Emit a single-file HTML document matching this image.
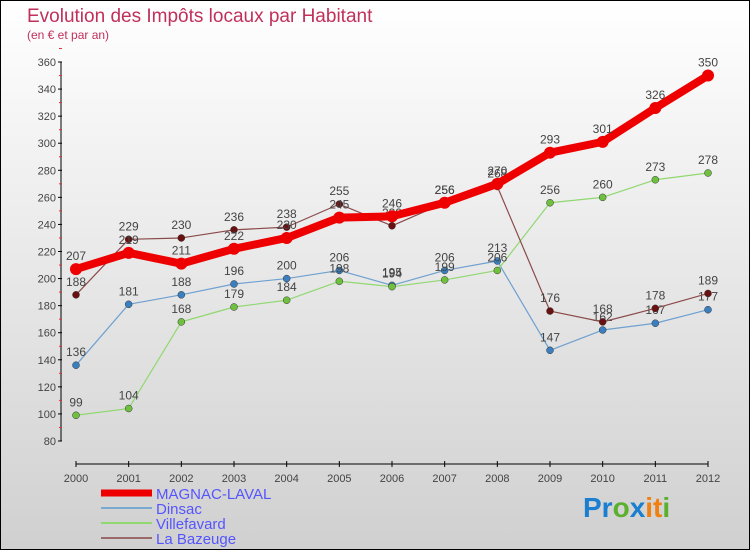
<!DOCTYPE html>
<html><head><meta charset="utf-8"><style>
body{margin:0}
#c{width:748px;height:548px;border:1px solid #000;background:linear-gradient(#fff,#d0d0d0);position:relative;font-family:"Liberation Sans",sans-serif;overflow:hidden}
svg text{font-family:"Liberation Sans",sans-serif}
</style></head><body>
<div id="c">
<svg id="s" width="748" height="548">
<text x="26" y="21" font-size="19" fill="#c0305a">Evolution des Impôts locaux par Habitant</text>
<text x="26" y="38" font-size="12" fill="#c0305a">(en € et par an)</text>
<g id="ax"></g><g id="ser"></g><g id="lg"></g>
<text x="582" y="516" font-size="28" font-weight="bold"><tspan fill="#1a7fd0">Pr</tspan><tspan fill="#5bb030">o</tspan><tspan fill="#1a7fd0">x</tspan><tspan fill="#f08010">it</tspan><tspan fill="#5bb030">i</tspan></text>
</svg></div>
<script>
const years=[2000,2001,2002,2003,2004,2005,2006,2007,2008,2009,2010,2011,2012];
const yTicks=[80,100,120,140,160,180,200,220,240,260,280,300,320,340,360];
const magnac=[207,219,211,222,230,245,246,256,270,293,301,326,350];
const dinsac=[136,181,188,196,200,206,195,206,213,147,162,167,177];
const villefavard=[99,104,168,179,184,198,194,199,206,256,260,273,278];
const bazeuge=[188,229,230,236,238,255,239,256,268,176,168,178,189];
const NS="http://www.w3.org/2000/svg";
const X=i=>75+i*(632/(years.length-1));
const Y=v=>440-(v-80)*(379/280);
function mk(p,t,a){const e=document.createElementNS(NS,t);for(const k in a)e.setAttribute(k,a[k]);p.appendChild(e);return e;}
const ax=document.getElementById('ax');
let e=mk(ax,'line',{x1:60,y1:Y(360),x2:60,y2:Y(80),stroke:'#000'});


yTicks.forEach(v=>{mk(ax,'line',{x1:57,x2:61,y1:Y(v),y2:Y(v),stroke:'#000'});
mk(ax,'line',{x1:58,x2:61,y1:Y(v+10),y2:Y(v+10),stroke:'#e03030'});
const t=mk(ax,'text',{x:55,y:Y(v)+4,'font-size':11,'text-anchor':'end',fill:'#444'});t.textContent=v;

});
e=mk(ax,'line',{x1:75,y1:463,x2:707,y2:463,stroke:'#000'});


years.forEach((y,i)=>{mk(ax,'line',{x1:X(i),x2:X(i),y1:460,y2:466,stroke:'#000'});
const t=mk(ax,'text',{x:X(i),y:481,'font-size':11,'text-anchor':'middle',fill:'#444'});t.textContent=y;

});
const series=[
{n:'dinsac',d:dinsac,c:'#6fa0d0',p:'#3a80c0',w:1.2,r:3.5},
{n:'villefavard',d:villefavard,c:'#90d870',p:'#70c040',w:1.2,r:3.5},
{n:'bazeuge',d:bazeuge,c:'#8a4a4a',p:'#6a1010',w:1.2,r:3.5},
{n:'magnac-laval',d:magnac,c:'#ee0000',p:'#ee0000',w:8,r:6}];
const sg=document.getElementById('ser');
series.forEach(s=>{
const pl=mk(sg,'polyline',{points:s.d.map((v,i)=>X(i)+','+Y(v)).join(' '),fill:'none',stroke:s.c,'stroke-width':s.w,'stroke-linejoin':'round'});


s.d.forEach((v,i)=>{const c=mk(sg,'circle',{cx:X(i),cy:Y(v),r:s.r,fill:s.p,stroke:'#333','stroke-width':s.w>2?0:0.5});


const t=mk(sg,'text',{x:X(i),y:Y(v)-9,'font-size':12,'text-anchor':'middle',fill:'#444'});t.textContent=v;

});});
const lg=document.getElementById('lg');
[['MAGNAC-LAVAL','#ee0000',7],['Dinsac','#7aaad0',2],['Villefavard','#90d870',2],['La Bazeuge','#9a6a6a',2]].forEach((l,i)=>{
const y=492+i*15;
mk(lg,'line',{x1:100,x2:151,y1:y,y2:y,stroke:l[1],'stroke-width':l[2]});
const t=mk(lg,'text',{x:155,y:y+6,'font-size':15,fill:'#5555ff'});t.textContent=l[0];

});
</script></body></html>
